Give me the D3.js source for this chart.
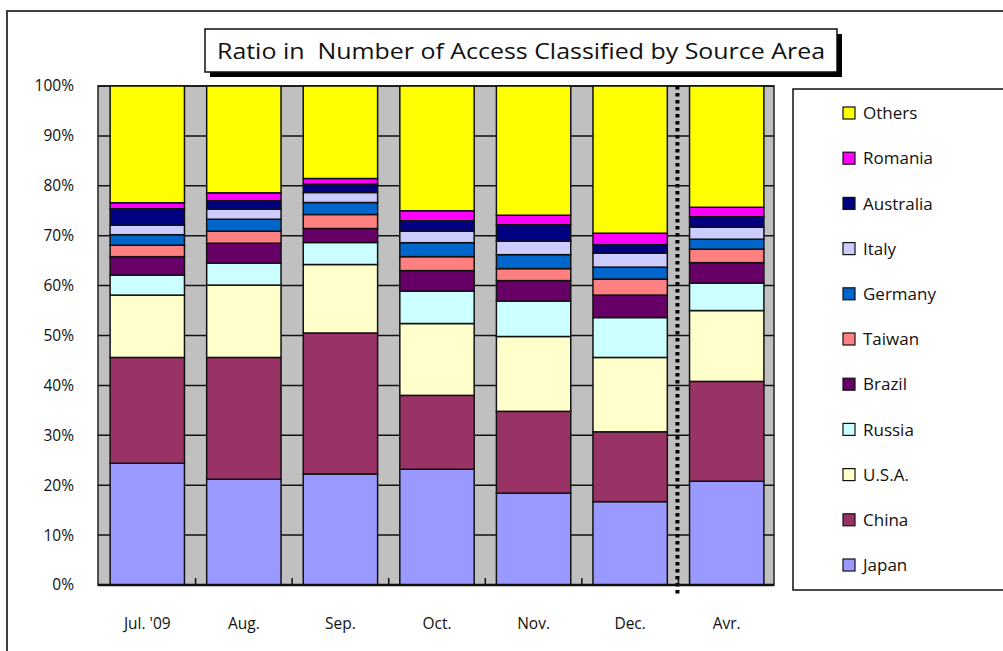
<!DOCTYPE html>
<html>
<head>
<meta charset="utf-8">
<script src="https://cdn.jsdelivr.net/npm/d3@7"></script>
<style>
  html, body { margin: 0; padding: 0; background: #fff; }
  svg { display: block; font-family: "Open Sans", "Noto Sans", sans-serif; }
</style>
</head>
<body>
<svg id="chart" width="1003" height="651"></svg>
<script>
const categories = ["Jul. '09", "Aug.", "Sep.", "Oct.", "Nov.", "Dec.", "Avr."];
const seriesNames = ["Japan", "China", "U.S.A.", "Russia", "Brazil", "Taiwan", "Germany", "Italy", "Australia", "Romania", "Others"];
const japan     = [24.4, 21.2, 22.2, 23.2, 18.4, 16.7, 20.8];
const china     = [21.2, 24.4, 28.2, 14.8, 16.4, 14.0, 20.0];
const usa       = [12.5, 14.5, 13.7, 14.4, 15.0, 14.9, 14.2];
const russia    = [ 4.0,  4.4,  4.4,  6.5,  7.1,  8.0,  5.5];
const brazil    = [ 3.7,  4.0,  2.8,  4.1,  4.1,  4.5,  4.1];
const taiwan    = [ 2.3,  2.4,  2.8,  2.8,  2.4,  3.2,  2.7];
const germany   = [ 2.1,  2.4,  2.4,  2.8,  2.8,  2.4,  2.0];
const italy     = [ 1.9,  2.0,  2.0,  2.3,  2.7,  2.8,  2.4];
const australia = [ 3.3,  1.7,  1.7,  2.1,  3.3,  1.7,  2.1];
const romania   = [ 1.2,  1.6,  1.1,  2.0,  1.9,  2.3,  1.9];
const others    = [23.4, 21.4, 18.5, 25.0, 25.9, 29.5, 24.3];
const yTicks    = [0, 0.1, 0.2, 0.3, 0.4, 0.5, 0.6, 0.7, 0.8, 0.9, 1.0];
const legendOrder = ["Others", "Romania", "Australia", "Italy", "Germany", "Taiwan", "Brazil", "Russia", "U.S.A.", "China", "Japan"];
const titleText = "Ratio in  Number of Access Classified by Source Area";

const colors = {
  "Japan": "#9999FF", "China": "#993366", "U.S.A.": "#FFFFCC", "Russia": "#CCFFFF",
  "Brazil": "#660066", "Taiwan": "#FF8080", "Germany": "#0066CC", "Italy": "#CCCCFF",
  "Australia": "#000080", "Romania": "#FF00FF", "Others": "#FFFF00"
};
const seriesValues = [japan, china, usa, russia, brazil, taiwan, germany, italy, australia, romania, others];

const rows = categories.map((c, i) => {
  const r = { cat: c };
  let tot = 0;
  seriesNames.forEach((s, k) => { tot += seriesValues[k][i]; });
  seriesNames.forEach((s, k) => { r[s] = seriesValues[k][i] / tot; });
  return r;
});
const stacked = d3.stack().keys(seriesNames)(rows);

const svg = d3.select("#chart");

// outer chart border
svg.append("rect").attr("x", 7).attr("y", 11).attr("width", 1010).attr("height", 660)
  .attr("fill", "#fff").attr("stroke", "#404040").attr("stroke-width", 2);

const plot = { left: 98, right: 774, top: 86, bottom: 585 };
const x = d3.scaleBand().domain(categories).range([99, 775]).paddingInner(0.23).paddingOuter(0.115);
const y = d3.scaleLinear().domain([0, 1]).range([plot.bottom, plot.top]);

// plot background
svg.append("rect").attr("x", plot.left).attr("y", plot.top)
  .attr("width", plot.right - plot.left).attr("height", plot.bottom - plot.top)
  .attr("fill", "#C0C0C0").attr("stroke", "#222").attr("stroke-width", 1.5);

// gridlines
svg.append("g").selectAll("line").data(yTicks).join("line")
  .attr("x1", plot.left).attr("x2", plot.right)
  .attr("y1", d => y(d)).attr("y2", d => y(d))
  .attr("stroke", "#111").attr("stroke-width", 1.5);

// bars
svg.append("g").selectAll("g").data(stacked).join("g")
  .attr("fill", d => colors[d.key])
  .selectAll("rect").data(d => d).join("rect")
  .attr("x", d => x(d.data.cat))
  .attr("width", x.bandwidth())
  .attr("y", d => y(d[1]))
  .attr("height", d => y(d[0]) - y(d[1]))
  .attr("stroke", "#111").attr("stroke-width", 1.5);

// dotted separator between Dec. and Avr.
const sepX = x("Avr.") - x.step() * x.paddingInner() / 2 - 1;
svg.append("line").attr("x1", sepX).attr("x2", sepX).attr("y1", plot.top).attr("y2", plot.bottom + 9)
  .attr("stroke", "#000").attr("stroke-width", 4).attr("stroke-dasharray", "3.5,3.5");

// y axis
const yAxis = d3.axisLeft(y).tickValues(yTicks).tickFormat(d3.format(".0%")).tickSize(0).tickPadding(24);
const yg = svg.append("g").attr("transform", `translate(${plot.left},0)`).call(yAxis);
yg.select(".domain").remove();
yg.selectAll("text").attr("font-size", 15.5).attr("fill", "#111")
  .attr("font-family", "'Open Sans', sans-serif");

// x axis
const xAxis = d3.axisBottom(x).tickSize(0).tickPadding(33);
const xg = svg.append("g").attr("transform", `translate(0,${plot.bottom})`).call(xAxis);
xg.select(".domain").attr("stroke", "#111").attr("stroke-width", 2.5)
  .attr("d", `M${plot.left},0H${plot.right}`);
xg.selectAll("text").attr("font-size", 15.5).attr("fill", "#111")
  .attr("font-family", "'Open Sans', sans-serif");
// inward tick marks at band boundaries
const bounds = categories.slice(1).map(c => x(c) - x.step() * x.paddingInner() / 2);
xg.append("g").selectAll("line").data(bounds).join("line")
  .attr("x1", d => d).attr("x2", d => d).attr("y1", 0).attr("y2", -7)
  .attr("stroke", "#111").attr("stroke-width", 1.5);

// title box
const tb = { x: 205, y: 29, w: 632, h: 43 };
svg.append("rect").attr("x", tb.x + 5).attr("y", tb.y + 5).attr("width", tb.w).attr("height", tb.h).attr("fill", "#000");
svg.append("rect").attr("x", tb.x).attr("y", tb.y).attr("width", tb.w).attr("height", tb.h)
  .attr("fill", "#fff").attr("stroke", "#111").attr("stroke-width", 1.5);
svg.append("text").attr("x", 217).attr("y", 59).attr("font-size", 22)
  .attr("textLength", 608).attr("lengthAdjust", "spacingAndGlyphs")
  .attr("fill", "#111").style("white-space", "pre").text(titleText);

// legend
svg.append("rect").attr("x", 793).attr("y", 89).attr("width", 230).attr("height", 501)
  .attr("fill", "#fff").attr("stroke", "#111").attr("stroke-width", 1.5);
const lg = svg.append("g").selectAll("g").data(legendOrder).join("g")
  .attr("transform", (d, i) => `translate(843, ${113 + i * 45.2})`);
lg.append("rect").attr("x", 0).attr("y", -6).attr("width", 12).attr("height", 12)
  .attr("fill", d => colors[d]).attr("stroke", "#111").attr("stroke-width", 1.2);
lg.append("text").attr("x", 20).attr("y", 0).attr("dy", "0.36em").attr("font-size", 17)
  .attr("fill", "#111").text(d => d);
</script>
</body>
</html>
